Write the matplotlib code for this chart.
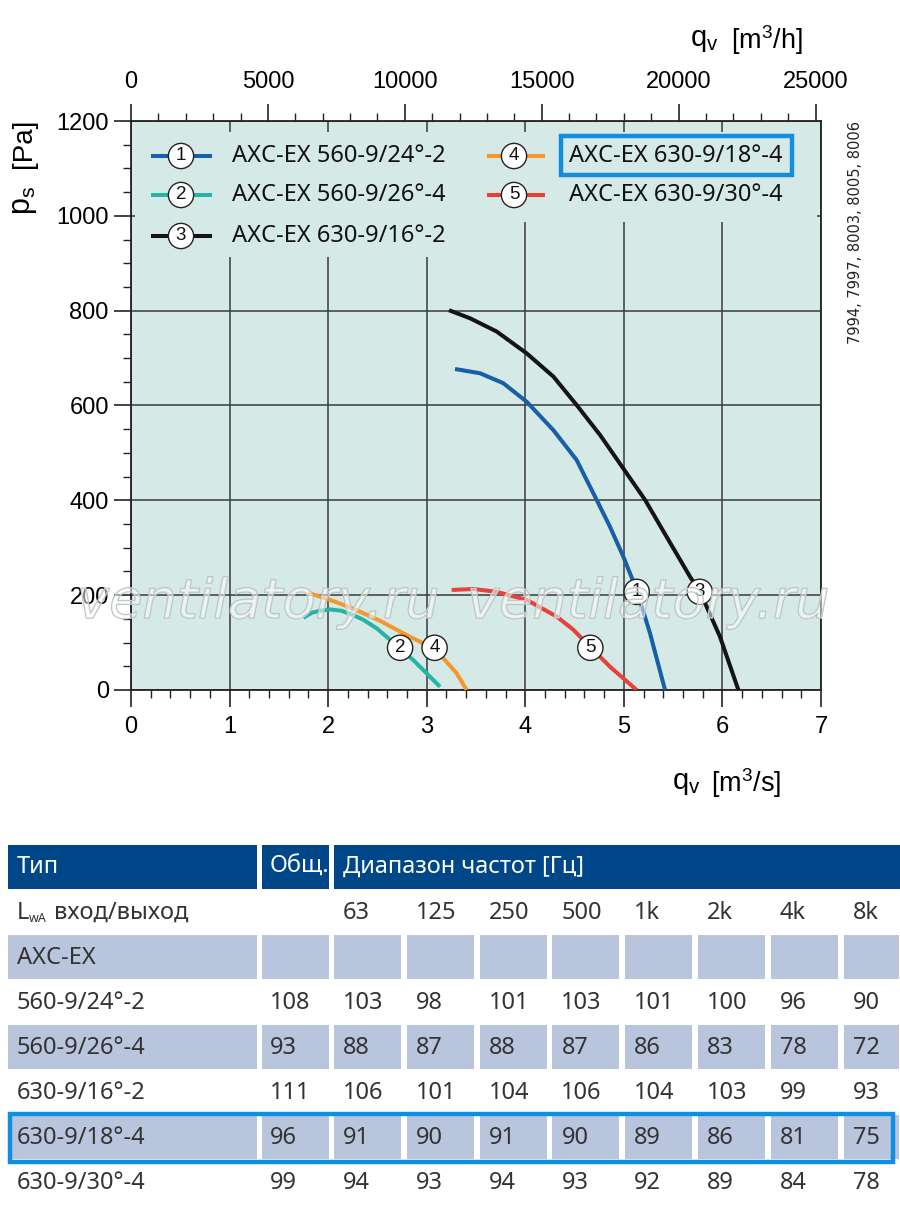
import matplotlib
matplotlib.use("Agg")
import matplotlib.pyplot as plt
import matplotlib.patheffects as pe
from matplotlib.patches import Rectangle
from matplotlib.ticker import MultipleLocator

plt.rcParams['font.family'] = ['Liberation Sans', 'DejaVu Sans']
plt.rcParams['mathtext.fontset'] = 'custom'
plt.rcParams['mathtext.rm'] = 'Liberation Sans'
plt.rcParams['mathtext.it'] = 'Liberation Sans'

# ---------------- data ----------------
models = ["AXC-EX 560-9/24°-2", "AXC-EX 560-9/26°-4", "AXC-EX 630-9/16°-2",
          "AXC-EX 630-9/18°-4", "AXC-EX 630-9/30°-4"]
colors = ["#175fa6", "#27b3a5", "#141414", "#f4982d", "#e8413a"]

q1 = [3.287, 3.541, 3.777, 4.014, 4.285, 4.521, 4.724, 4.860, 4.995, 5.130, 5.265, 5.418]
p1 = [677, 668, 647, 608, 548, 485, 401, 344, 281, 211, 120, 0]
q2 = [1.748, 1.833, 1.917, 2.019, 2.137, 2.256, 2.357, 2.493, 2.594, 2.729, 2.864, 3.0, 3.135]
p2 = [152, 163, 167, 170, 167, 158, 148, 130, 112, 88, 63, 35, 7]
q3 = [3.226, 3.439, 3.710, 4.014, 4.285, 4.521, 4.758, 5.005, 5.215, 5.434, 5.671, 5.773, 5.976, 6.162]
p3 = [801, 784, 756, 710, 661, 601, 538, 464, 401, 323, 239, 207, 112, 0]
q4 = [1.799, 2.019, 2.188, 2.357, 2.526, 2.696, 2.830, 2.932, 3.067, 3.169, 3.304, 3.406]
p4 = [205, 190, 177, 162, 146, 127, 112, 102, 84, 67, 35, 0]
q5 = [3.253, 3.473, 3.710, 4.014, 4.318, 4.488, 4.657, 4.860, 5.130]
p5 = [211, 213, 207, 190, 155, 127, 91, 49, 0]
curves_q = [q1, q2, q3, q4, q5]
curves_p = [p1, p2, p3, p4, p5]
label_q = [5.13, 2.73, 5.77, 3.08, 4.66]
label_p = [207, 89, 207, 89, 89]

x_ticks = [0, 1, 2, 3, 4, 5, 6, 7]
y_ticks = [0, 200, 400, 600, 800, 1000, 1200]
top_ticks = [0, 5000, 10000, 15000, 20000, 25000]

table_header = ["Тип", "Общ.", "Диапазон частот [Гц]"]
bands = ["63", "125", "250", "500", "1k", "2k", "4k", "8k"]
row_names = ["560-9/24°-2", "560-9/26°-4", "630-9/16°-2", "630-9/18°-4", "630-9/30°-4"]
row_total = [108, 93, 111, 96, 99]
row_bands = [
    [103, 98, 101, 103, 101, 100, 96, 90],
    [88, 87, 88, 87, 86, 83, 78, 72],
    [106, 101, 104, 106, 104, 103, 99, 93],
    [91, 90, 91, 90, 89, 86, 81, 75],
    [94, 93, 94, 93, 92, 89, 84, 78],
]
highlight = 3

# ---------------- figure ----------------
W, H = 900, 1212
fig = plt.figure(figsize=(9, 12.12), dpi=100)

def fx(px):
    return px / W

def fy(py):
    return 1 - py / H

ax = fig.add_axes([fx(131), fy(690), 690 / W, 569 / H])
bg = "#d5eae6"
ax.set_facecolor(bg)
ax.set_xlim(0, 7)
ax.set_ylim(0, 1200)
ax.set_xticks(x_ticks)
ax.set_yticks(y_ticks)
ax.xaxis.set_minor_locator(MultipleLocator(0.2))
ax.yaxis.set_minor_locator(MultipleLocator(50))
ax.tick_params(which='major', direction='out', length=12, width=1.2, labelsize=17, color='#222')
ax.tick_params(which='minor', direction='out', length=6, width=1.0, color='#222')
ax.tick_params(axis='x', which='major', pad=7)
ax.tick_params(axis='y', which='major', pad=4)
for s in ax.spines.values():
    s.set_color('#222')
    s.set_linewidth(1.3)
ax.grid(True, which='major', color='#3a3a3a', linewidth=1.1, zorder=0)
ax.set_axisbelow(True)

sec = ax.secondary_xaxis('top', functions=(lambda q: q * 3600, lambda h: h / 3600))
sec.set_xticks(top_ticks)
sec.xaxis.set_minor_locator(MultipleLocator(1000))
sec.tick_params(which='major', direction='out', length=12, width=1.2, labelsize=17, color='#222', pad=8)
sec.tick_params(which='minor', direction='out', length=6, width=1.0, color='#222')
sec.spines['top'].set_visible(False)

# legend background covering grid
def px2data(xp, yp):
    return (xp - 131) / 690 * 7, (690 - yp) / 569 * 1200

x0, y0 = px2data(135, 222)
x1, y1 = px2data(817, 132)
ax.add_patch(Rectangle((x0, y0), x1 - x0, y1 - y0, facecolor=bg, edgecolor='none', zorder=1))
x0, y0 = px2data(135, 257)
x1, y1 = px2data(458, 132)
ax.add_patch(Rectangle((x0, y0), x1 - x0, y1 - y0, facecolor=bg, edgecolor='none', zorder=1))

# watermark
for wx in (258, 648):
    t = fig.text(fx(wx), fy(603), "ventilatory.ru", fontsize=39, style='italic',
                 color=(1, 1, 1, 0.3), ha='center', va='center', zorder=5,
                 family='DejaVu Sans')
    t.set_path_effects([pe.Stroke(linewidth=1.0, foreground='#b8c0c0'), pe.Normal()])

# curves
for q, p, c in zip(curves_q, curves_p, colors):
    ax.plot(q, p, color=c, linewidth=2.9, solid_capstyle='butt', solid_joinstyle='round', zorder=3)

def circ(xd, yd, num):
    ax.text(xd, yd, str(num), ha='center', va='center', fontsize=13.5, color='#111', zorder=6,
            bbox=dict(boxstyle='circle,pad=0.22', facecolor='white', edgecolor='#222', linewidth=1.0))

for i in range(5):
    circ(label_q[i], label_p[i], i + 1)

# legend entries
leg_rows = [156, 195, 236]
leg_pos = [(0, 0), (0, 1), (0, 2), (1, 0), (1, 1)]
col_line = [(151, 212, 181, 232), (487, 545, 514, 569)]
for i, (col, row) in enumerate(leg_pos):
    l0, l1, cx, tx = col_line[col]
    yv = leg_rows[row]
    xa, ya = px2data(l0, yv)
    xb, _ = px2data(l1, yv)
    xc, _ = px2data(cx, yv)
    xt, _ = px2data(tx, yv)
    ax.plot([xa, xb], [ya, ya], color=colors[i], linewidth=2.9, solid_capstyle='butt', zorder=4)
    circ(xc, ya, i + 1)
    ax.text(xt, ya, models[i], fontsize=17, family=['Noto Sans', 'DejaVu Sans'],
            ha='left', va='center', color='#111', zorder=6)

# highlight box around legend item 4
fig.add_artist(Rectangle((fx(561), fy(175)), 231 / W, 39 / H, transform=fig.transFigure,
                         facecolor='none', edgecolor='#108ee0', linewidth=3.2))

# axis labels
fig.text(fx(690), fy(40), r'$\mathregular{q_v}$', fontsize=21, ha='left', va='center')
fig.text(fx(731), fy(40), r'[m$^3$/h]', fontsize=19.5, ha='left', va='center')
fig.text(fx(672), fy(783), r'$\mathregular{q_v}$', fontsize=21, ha='left', va='center')
fig.text(fx(711), fy(783), r'[m$^3$/s]', fontsize=19.5, ha='left', va='center')
fig.text(fx(24), fy(200), r'$\mathregular{p_s}$', fontsize=22, ha='center', va='center', rotation=90)
fig.text(fx(24), fy(143), '[Pa]', fontsize=20, ha='center', va='center', rotation=90)
fig.text(fx(855), fy(232), "7994, 7997, 8003, 8005, 8006", fontsize=10.5, rotation=90,
         ha='center', va='center', family='DejaVu Sans', color='#222')

# ---------------- table ----------------
tfont = ['Noto Sans', 'DejaVu Sans']
tsize = 17
hdr_col = "#00478a"
shade = "#b8c5dc"
col_x = [8, 262] + [334 + 72.8 * i for i in range(8)]
col_w = [249, 67] + [67] * 7 + [55]
row_top = [845, 890, 935, 980, 1025, 1070, 1115, 1160]
row_h = 44

def cell(xp, yp, wp, hp, color):
    fig.add_artist(Rectangle((fx(xp), fy(yp + hp)), wp / W, hp / H, transform=fig.transFigure,
                             facecolor=color, edgecolor='none'))

def ttext(xp, yp, s, color='#222', **kw):
    fig.text(fx(xp), fy(yp), s, fontsize=tsize, family=tfont, color=color,
             ha='left', va='center', **kw)

# header
cell(col_x[0], row_top[0], col_w[0], row_h, hdr_col)
cell(col_x[1], row_top[0], col_w[1], row_h, hdr_col)
cell(col_x[2], row_top[0], 900 - col_x[2], row_h, hdr_col)
ttext(col_x[0] + 9, row_top[0] + 22, table_header[0], color='white')
ttext(col_x[1] + 8, row_top[0] + 22, table_header[1], color='white')
ttext(col_x[2] + 9, row_top[0] + 22, table_header[2], color='white')

# L_wA row
fig.text(fx(17), fy(row_top[1] + 23), 'L', fontsize=tsize, family=tfont, color='#333', ha='left', va='center')
fig.text(fx(29), fy(row_top[1] + 29), 'wA', fontsize=9, family=tfont, color='#333', ha='left', va='center')
ttext(54, row_top[1] + 23, 'вход/выход', color='#333')
for j, b in enumerate(bands):
    ttext(col_x[2 + j] + 9, row_top[1] + 23, b, color='#333')

# shaded rows: AXC-EX, 560-9/26, 630-9/18
shaded_rows = [2, 4, 6]
for r in shaded_rows:
    for j in range(10):
        cell(col_x[j], row_top[r], col_w[j], row_h, shade)
ttext(17, row_top[2] + 23, "AXC-EX", color='#333')

for i, name in enumerate(row_names):
    r = 3 + i
    yc = row_top[r] + 23
    ttext(17, yc, name, color='#333')
    ttext(col_x[1] + 8, yc, str(row_total[i]), color='#333')
    for j, v in enumerate(row_bands[i]):
        ttext(col_x[2 + j] + 9, yc, str(v), color='#333')

r = 3 + highlight
fig.add_artist(Rectangle((fx(10), fy(row_top[r] + 47)), 883 / W, 48 / H, transform=fig.transFigure,
                         facecolor='none', edgecolor='#108ee0', linewidth=3.2))

fig.savefig("out.png", dpi=100)
